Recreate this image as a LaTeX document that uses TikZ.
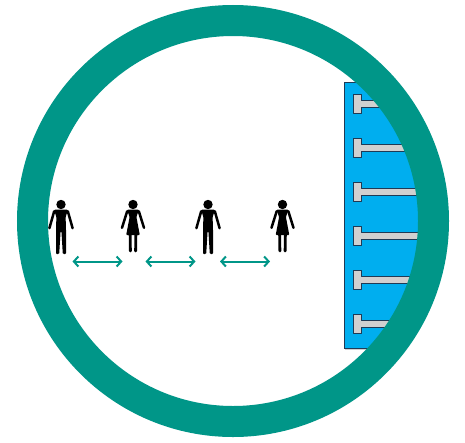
\documentclass[tikz,border=0pt]{standalone}
\usetikzlibrary{arrows.meta}
\definecolor{ringteal}{HTML}{009688}
\definecolor{panelblue}{HTML}{00AEEF}
\definecolor{hookgray}{HTML}{D0D0D0}
\definecolor{edgedark}{HTML}{1F3A55}
\tikzset{
  x=1pt,y=-1pt,
  gap/.style={draw=ringteal,line width=2pt,{Straight Barb[length=4.5pt,width=10pt,line width=2pt]}-{Straight Barb[length=4.5pt,width=10pt,line width=2pt]}},
  limb/.style={line cap=round,line join=round,draw=black,line width=2.5pt},
  hook/.pic={
    \filldraw[fill=hookgray,draw=edgedark,line width=.8pt,line join=round]
      (-.3,-9.2)--(7.4,-9.2)--(7.4,-3.2)--(75,-3.2)--(75,3.2)--(7.4,3.2)--(7.4,9.2)--(-.3,9.2)--cycle;
  },
  man/.pic={
    \fill (0,-16.5) circle (4.7);
    \fill[rounded corners=1pt] (-7,-11.3)--(7,-11.3)--(4.6,-4)--(5,8)--(5,33)--(1.8,33)--(0.4,10)--(-.4,10)--(-1.8,33)--(-5,33)--(-5,8)--(-4.6,-4)--cycle;
    \draw[limb] (-6.8,-9.8)--(-11.6,7.2);
    \draw[limb] (6.8,-9.8)--(11.6,7.2);
  },
  woman/.pic={
    \fill (0,-16.5) circle (4.7);
    \fill[rounded corners=.8pt] (-6,-11.3)--(6,-11.3)--(3.4,-4)--(6.8,14)--(-6.8,14)--(-3.4,-4)--cycle;
    \draw[limb] (-5.8,-9.8)--(-11,6.8);
    \draw[limb] (5.8,-9.8)--(11,6.8);
    \draw[line width=2.8pt,line cap=round] (-2.9,12)--(-2.6,30);
    \draw[line width=2.8pt,line cap=round] (2.9,12)--(2.6,30);
  }
}
\begin{document}
\begin{tikzpicture}
\useasboundingbox (0,0) rectangle (465,442);
\fill[white] (0,0) rectangle (465,442);
\coordinate (ringc) at (233,221);
\begin{scope}
  \clip (ringc) circle (190);
  \fill[hookgray] (345,349) rectangle (440,350);
  \filldraw[fill=panelblue,draw=edgedark,line width=.8pt] (344.5,82) rectangle (440,348.8);
  \foreach \hy in {104,148,192,236,280,324}
    \pic at (354,\hy) {hook};
\end{scope}
\draw[ringteal,line width=31pt] (ringc) circle (200.5);
\pic at (61,221) {man};
\pic at (133,221) {woman};
\pic at (208,221) {man};
\pic at (282.5,221) {woman};
\coordinate (a1) at (72.5,261.5);
\coordinate (a2) at (122.5,261.5);
\coordinate (b1) at (145.5,261.5);
\coordinate (b2) at (195.5,261.5);
\coordinate (c1) at (220,261.5);
\coordinate (c2) at (270,261.5);
\draw[gap] (a1)--(a2);
\draw[gap] (b1)--(b2);
\draw[gap] (c1)--(c2);
\end{tikzpicture}
\end{document}
